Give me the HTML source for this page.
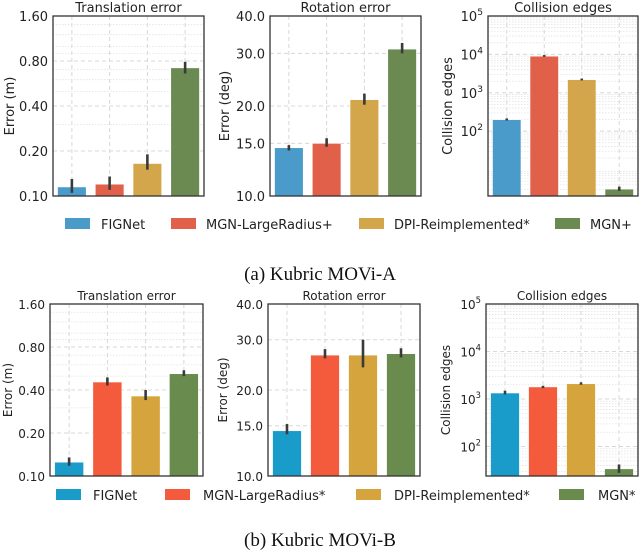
<!DOCTYPE html>
<html><head><meta charset="utf-8"><style>
body{margin:0;background:#fff;width:640px;height:552px;overflow:hidden}
svg{display:block}
text{font-family:"DejaVu Sans","Liberation Sans",sans-serif;fill:#222}
.cap{font-family:"Liberation Serif",serif;font-size:19px;fill:#111}
</style></head><body>
<svg id="chart" width="640" height="552" viewBox="0 0 640 552" xmlns="http://www.w3.org/2000/svg"></svg>
<script>
const categoriesA = ["FIGNet","MGN-LargeRadius+","DPI-Reimplemented*","MGN+"];
const categoriesB = ["FIGNet","MGN-LargeRadius*","DPI-Reimplemented*","MGN*"];
const transA = [0.115,0.12,0.165,0.72];
const transAlo = [0.105,0.11,0.15,0.66];
const transAhi = [0.13,0.135,0.19,0.79];
const rotA = [14.5,15.0,21.0,31.0];
const rotAlo = [14.2,14.6,20.2,30.0];
const rotAhi = [14.8,15.6,22.0,32.5];
const collA = [200,9000,2200,3.1];
const collAlo = [190,8700,2100,2.8];
const collAhi = [215,9600,2350,3.6];
const transB = [0.125,0.455,0.363,0.52];
const transBlo = [0.118,0.43,0.34,0.5];
const transBhi = [0.135,0.49,0.4,0.55];
const rotB = [14.4,26.5,26.5,26.8];
const rotBlo = [14.0,25.8,24.0,26.0];
const rotBhi = [15.2,27.8,30.0,28.0];
const collB = [1340,1800,2100,34];
const collBlo = [1250,1700,2000,28];
const collBhi = [1500,1900,2250,42];
const transTicks = [0.1,0.2,0.4,0.8,1.6];
const transTickLabels = ["0.10","0.20","0.40","0.80","1.60"];
const rotTicks = [10,15,20,30,40];
const rotTickLabels = ["10.0","15.0","20.0","30.0","40.0"];
const collTicks = [100,1000,10000,100000];
const collTickExp = ["2","3","4","5"];

const svg = document.getElementById('chart');
const NS = 'http://www.w3.org/2000/svg';
function mk(tag, attrs, parent){const e=document.createElementNS(NS,tag);for(const k in attrs)e.setAttribute(k,attrs[k]);(parent||svg).appendChild(e);return e;}

function panel(o){
  const g = mk('g',{});
  
  
  const L=Math.log10(o.min), H=Math.log10(o.max);
  const y = v => o.bottom - (Math.log10(v)-L)/(H-L)*(o.bottom-o.top);
  const slot=(o.right-o.left)/o.vals.length;
  const xc = i => o.left + slot*(i+0.5);
  // minor grid
  (o.minor||[]).forEach(v=>{
    const l=mk('line',{x1:o.left,x2:o.right,y1:y(v),y2:y(v),stroke:'#e2e2e2','stroke-width':0.8,'stroke-dasharray':'1.5,1.5'},g);
    
    
  });
  o.ticks.forEach((v,i)=>{
    const l=mk('line',{x1:o.left,x2:o.right,y1:y(v),y2:y(v),stroke:'#d8d8d8','stroke-width':1,'stroke-dasharray':'4,3'},g);
    
    
    const t=mk('text',{x:o.left-5,y:y(v)+5,'text-anchor':'end','font-size':o.fs},g);
    if(o.exp){ t.textContent='10'; const s=mk('tspan',{dy:-6,'font-size':o.fs*0.7},t); s.textContent=o.exp[i]; }
    else t.textContent=o.labels[i];
    
    
  });
  o.vals.forEach((v,i)=>{
    const l=mk('line',{x1:xc(i),x2:xc(i),y1:o.top,y2:o.bottom,stroke:'#d8d8d8','stroke-width':1,'stroke-dasharray':'4,3'},g);
    
    
  });
  o.vals.forEach((v,i)=>{
    const w=slot*0.76;
    const r=mk('rect',{x:xc(i)-w/2,y:y(v),width:w,height:o.bottom-y(v),fill:o.colors[i],stroke:'#fff','stroke-width':0.6},g);
    
    
    const e=mk('line',{x1:xc(i),x2:xc(i),y1:y(o.lo[i]),y2:y(o.hi[i]),stroke:'#3a3a3a','stroke-width':2.6},g);
    
    
  });
  const b=mk('rect',{x:o.left,y:o.top,width:o.right-o.left,height:o.bottom-o.top,fill:'none',stroke:'#333','stroke-width':1.3},g);
  
  
  const t=mk('text',{x:(o.left+o.right)/2,y:o.top-4,'text-anchor':'middle','font-size':o.fs},g);
  t.textContent=o.title;
  
  
  const yl=mk('text',{x:0,y:0,'text-anchor':'middle','font-size':o.fs,transform:`translate(${o.ylx},${(o.top+o.bottom)/2}) rotate(-90)`},g);
  yl.textContent=o.ylabel;
  
  
}
function legend(cats,colors,yy,sw,tx,name){
  const g=mk('g',{});
  
  
  cats.forEach((c,i)=>{
    const r=mk('rect',{x:sw[i],y:yy-6,width:25,height:11,fill:colors[i]},g);
    
    
    const t=mk('text',{x:tx[i],y:yy+5,'font-size':13},g);
    t.textContent=c;
    
    
  });
}
const colA=['#4a9bc9','#e0604a','#d4a64c','#6b8a52'];
const colB=['#1a9ccb','#f45a3c','#d6a43c','#698c4e'];
const minT=[0.3,0.5,0.6,0.7,0.9,1.0,1.2,1.4];
const minC=[];[1,10,100,1000,10000].forEach(d=>{for(let k=2;k<10;k++)minC.push(d*k);});
const minC2=minC.filter(v=>v>2);

panel({name:'translation-error-a',left:53,right:204,top:16,bottom:196,min:0.1,max:1.6,vals:transA,lo:transAlo,hi:transAhi,ticks:transTicks,labels:transTickLabels,minor:minT,colors:colA,cats:categoriesA,title:'Translation error',ylabel:'Error (m)',ylx:14,fs:13});
panel({name:'rotation-error-a',left:270,right:421,top:16,bottom:196,min:10,max:40,vals:rotA,lo:rotAlo,hi:rotAhi,ticks:rotTicks,labels:rotTickLabels,colors:colA,cats:categoriesA,title:'Rotation error',ylabel:'Error (deg)',ylx:229,fs:13});
panel({name:'collision-edges-a',left:488,right:638,top:16,bottom:196,min:2.05,max:100000,vals:collA,lo:collAlo,hi:collAhi,ticks:collTicks,exp:collTickExp,minor:minC2,colors:colA,cats:categoriesA,title:'Collision edges',ylabel:'Collision edges',ylx:452,fs:13});
legend(categoriesA,colA,224,[65,171,359,555],[101,206,394,590],'legend-a');
let c=mk('text',{x:320,y:280,'text-anchor':'middle',class:'cap'});c.textContent='(a) Kubric MOVi-A';



panel({name:'translation-error-b',left:50,right:203,top:304,bottom:476,min:0.1,max:1.6,vals:transB,lo:transBlo,hi:transBhi,ticks:transTicks,labels:transTickLabels,minor:minT,colors:colB,cats:categoriesB,title:'Translation error',ylabel:'Error (m)',ylx:12,fs:12});
panel({name:'rotation-error-b',left:268,right:420,top:304,bottom:476,min:10,max:40,vals:rotB,lo:rotBlo,hi:rotBhi,ticks:rotTicks,labels:rotTickLabels,colors:colB,cats:categoriesB,title:'Rotation error',ylabel:'Error (deg)',ylx:227,fs:12});
panel({name:'collision-edges-b',left:486,right:638,top:304,bottom:476,min:24,max:100000,vals:collB,lo:collBlo,hi:collBhi,ticks:collTicks,exp:collTickExp,minor:minC.filter(v=>v>24),colors:colB,cats:categoriesB,title:'Collision edges',ylabel:'Collision edges',ylx:450,fs:12});
legend(categoriesB,colB,495,[56,165,356,559],[93,203,394,598],'legend-b');
c=mk('text',{x:320,y:546,'text-anchor':'middle',class:'cap'});c.textContent='(b) Kubric MOVi-B';


</script>
</body></html>
